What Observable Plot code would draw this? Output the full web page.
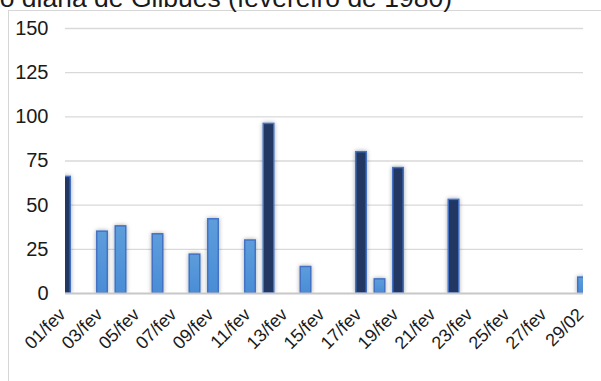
<!DOCTYPE html>
<html>
<head>
<meta charset="utf-8">
<script src="https://cdn.jsdelivr.net/npm/d3@7"></script>
<script src="https://cdn.jsdelivr.net/npm/@observablehq/plot@0.6"></script>
<style>
  html, body { margin: 0; padding: 0; background: #fff; }
  #wrap { position: relative; width: 601px; height: 381px; overflow: hidden; font-family: "Liberation Sans", Arial, sans-serif; }
  #frame { position: absolute; left: 8px; top: 10px; width: 800px; height: 800px; border: 1px solid #d6d6d6; box-sizing: border-box; }
  #title { position: absolute; right: 149px; top: -15.1px; font-size: 26.5px; line-height: 26.5px; white-space: nowrap; color: #1a1a1a; }
  #chart { position: absolute; left: 0; top: 0; }
</style>
</head>
<body>
<div id="wrap">
  <div id="frame"></div>
  <div id="title">Precipitação diária de Gilbués (fevereiro de 1980)</div>
  <div id="chart"></div>
</div>
<script>
const dias = ["01/fev","02/fev","03/fev","04/fev","05/fev","06/fev","07/fev","08/fev","09/fev","10/fev",
  "11/fev","12/fev","13/fev","14/fev","15/fev","16/fev","17/fev","18/fev","19/fev","20/fev",
  "21/fev","22/fev","23/fev","24/fev","25/fev","26/fev","27/fev","28/fev","29/02"];
const precipitacao = [66,0,35,38,0,33.5,0,22,42,0,30,96,0,15,0,0,80,8,71,0,0,53,0,0,0,0,0,0,9];
const rotulos = ["01/fev","03/fev","05/fev","07/fev","09/fev","11/fev","13/fev","15/fev","17/fev","19/fev","21/fev","23/fev","25/fev","27/fev","29/02"];
const yTicks = [0,25,50,75,100,125,150];
const limiarDestaque = 50;

const data = dias.map((d, i) => ({n: i + 1, dia: d, valor: precipitacao[i]})).filter(d => d.valor > 0);
const escuros = data.filter(d => d.valor >= limiarDestaque);
const claros = data.filter(d => d.valor < limiarDestaque);
const meiaLargura = 0.285;

const W = 601, H = 381;
const mL = 65, mR = 18, mT = 28, mB = 88;

const plot = Plot.plot({
  width: W, height: H,
  marginLeft: mL, marginRight: mR, marginTop: mT, marginBottom: mB,
  style: {fontFamily: "'Liberation Sans', Arial, sans-serif", color: "#1a1a1a", background: "transparent"},
  x: {type: "linear", domain: [1, dias.length], ticks: rotulos.map(r => dias.indexOf(r) + 1),
      tickFormat: n => dias[n - 1], tickSize: 0, tickRotate: -45, tickPadding: 6, label: null},
  y: {domain: [0, 150], ticks: yTicks, tickSize: 0, tickPadding: 17, label: null},
  marks: [
    Plot.ruleY(yTicks.filter(v => v > 0), {stroke: "#d9d9d9", strokeWidth: 1.3}),
    Plot.rectY(claros, {x1: d => d.n - meiaLargura, x2: d => d.n + meiaLargura, y: "valor", fill: "url(#gradClaro)", stroke: "#4472c4", strokeWidth: 1.5}),
    Plot.rectY(escuros, {x1: d => d.n - meiaLargura, x2: d => d.n + meiaLargura, y: "valor", fill: "#203864", stroke: "#4472c4", strokeWidth: 1.5}),
    Plot.ruleY([0], {stroke: "#c8c8c8", strokeWidth: 1.8})
  ]
});

const svg = d3.select(plot);
const defs = svg.insert("defs", ":first-child");
const g = defs.append("linearGradient").attr("id", "gradClaro").attr("x1", 0).attr("y1", 0).attr("x2", 0).attr("y2", 1);
g.append("stop").attr("offset", "0%").attr("stop-color", "#5d9ddb");
g.append("stop").attr("offset", "100%").attr("stop-color", "#4a8dd6");
const f = defs.append("filter").attr("id", "sombra").attr("x", "-50%").attr("y", "-10%").attr("width", "200%").attr("height", "120%");
f.append("feDropShadow").attr("dx", 0).attr("dy", 0).attr("stdDeviation", 2.2).attr("flood-color", "#000").attr("flood-opacity", 0.35);
defs.append("clipPath").attr("id", "recorte").append("rect")
  .attr("x", mL).attr("y", 0).attr("width", W - mL - mR).attr("height", H - mB + 1);
svg.selectAll('g[aria-label="rect"]').each(function () {
  const el = d3.select(this);
  const wrapper = svg.insert("g", () => this).attr("clip-path", "url(#recorte)");
  wrapper.node().appendChild(this);
  el.attr("filter", "url(#sombra)");
});
svg.selectAll('g[aria-label^="y-axis"] text').style("font-size", "20px");
const xa = svg.selectAll('g[aria-label^="x-axis"]');
xa.selectAll("text").style("font-size", "18px");
xa.attr("transform", function () { return (this.getAttribute("transform") || "") + " translate(-3,12)"; });

document.getElementById("chart").appendChild(plot);
</script>
</body>
</html>
